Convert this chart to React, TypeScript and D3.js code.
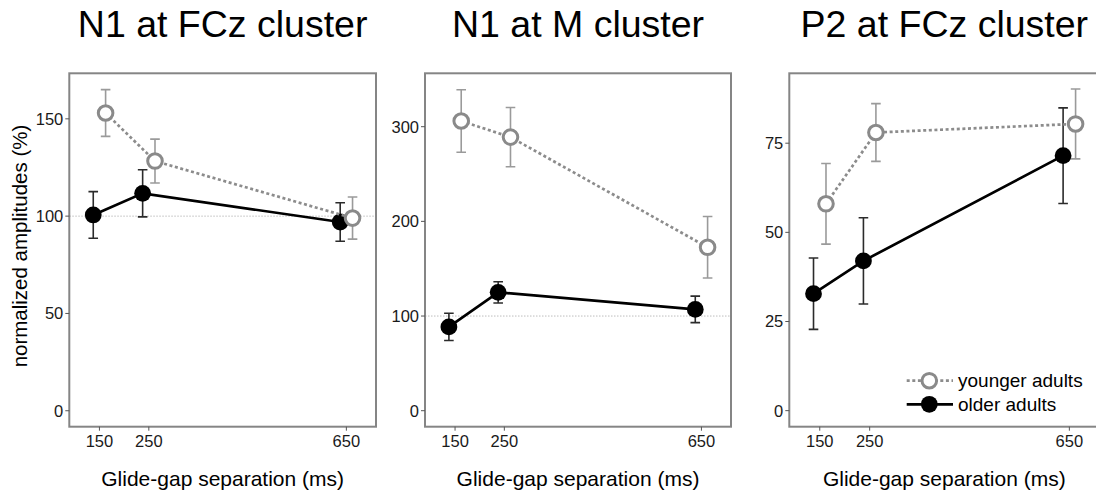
import React from "react";
import * as d3 from "d3";

// Glide-gap separations (ms) and the two listener groups
const separations = [150, 250, 650];
const xTicks = [150, 250, 650];
const groups = ["older adults", "younger adults"];

// Panel titles and y tick labels
const titles = ["N1 at FCz cluster", "N1 at M cluster", "P2 at FCz cluster"];
const yTicksN1FCz = [0, 50, 100, 150];
const yTicksN1M = [0, 100, 200, 300];
const yTicksP2FCz = [0, 25, 50, 75];

// Normalized amplitudes (%) — means and error half-widths
const n1FCzYounger = [153, 128.3, 99];
const n1FCzYoungerErr = [12, 11.3, 10.8];
const n1FCzOlder = [100.6, 111.7, 97];
const n1FCzOlderErr = [12, 12.1, 9.9];

const n1MYounger = [306, 289, 172.6];
const n1MYoungerErr = [33, 31.3, 32.5];
const n1MOlder = [88.5, 125, 107];
const n1MOlderErr = [14.4, 11.2, 14];

const p2FCzYounger = [58, 78, 80.4];
const p2FCzYoungerErr = [11.3, 8.1, 9.8];
const p2FCzOlder = [32.8, 42, 71.5];
const p2FCzOlderErr = [10, 12.1, 13.4];

const FONT = "'Liberation Sans', Arial, Helvetica, sans-serif";
const TOP = 73.3;
const BOTTOM = 426.7;
const X_DOMAIN: [number, number] = [89, 710];
const DODGE = 12.5;

type PanelSpec = {
  title: string;
  left: number;
  width: number;
  yDomain: [number, number];
  yTicks: number[];
  younger: number[];
  youngerErr: number[];
  older: number[];
  olderErr: number[];
  refLine: boolean;
  yLabel: boolean;
  legend: boolean;
};

const panels: PanelSpec[] = [
  {
    title: titles[0], left: 69.3, width: 306.7, yDomain: [-8.2, 173.4], yTicks: yTicksN1FCz,
    younger: n1FCzYounger, youngerErr: n1FCzYoungerErr, older: n1FCzOlder, olderErr: n1FCzOlderErr,
    refLine: true, yLabel: true, legend: false,
  },
  {
    title: titles[1], left: 425, width: 306, yDomain: [-16.9, 356.4], yTicks: yTicksN1M,
    younger: n1MYounger, youngerErr: n1MYoungerErr, older: n1MOlder, olderErr: n1MOlderErr,
    refLine: true, yLabel: false, legend: false,
  },
  {
    title: titles[2], left: 789.3, width: 310, yDomain: [-4.5, 94.6], yTicks: yTicksP2FCz,
    younger: p2FCzYounger, youngerErr: p2FCzYoungerErr, older: p2FCzOlder, olderErr: p2FCzOlderErr,
    refLine: false, yLabel: false, legend: true,
  },
];

const styles = {
  older: { line: "#000", dash: undefined as string | undefined, err: "#2b2b2b", fill: "#000", stroke: "#000", r: 8.4, sw: 0 },
  younger: { line: "#8c8c8c", dash: "3 2.6", err: "#9a9a9a", fill: "#fff", stroke: "#8a8a8a", r: 7.3, sw: 3 },
};

function Panel({ p }: { p: PanelSpec }) {
  const x = d3.scaleLinear().domain(X_DOMAIN).range([p.left, p.left + p.width]);
  const y = d3.scaleLinear().domain(p.yDomain).range([BOTTOM, TOP]);
  const cx = (p.left + p.left + p.width) / 2;
  const series = [
    { key: "older", vals: p.older, errs: p.olderErr, off: -DODGE, st: styles.older },
    { key: "younger", vals: p.younger, errs: p.youngerErr, off: DODGE, st: styles.younger },
  ];
  const lineGen = d3
    .line<[number, number]>()
    .x((d) => d[0])
    .y((d) => d[1]);
  const clipId = `clip-${p.left.toFixed(0)}`;

  return (
    <g>
      <defs>
        <clipPath id={clipId}>
          <rect x={p.left} y={TOP} width={p.width} height={BOTTOM - TOP} />
        </clipPath>
      </defs>
      <text x={cx} y={37} textAnchor="middle" fontSize={37.5} fontFamily={FONT} fill="#000">
        {p.title}
      </text>

      {p.refLine && (
        <line
          x1={p.left}
          x2={p.left + p.width}
          y1={y(100)}
          y2={y(100)}
          stroke="#bdbdbd"
          strokeWidth={1}
          strokeDasharray="1.5 1.5"
        />
      )}

      <g clipPath={`url(#${clipId})`}>
        {series.map((s) => {
          const pts: [number, number][] = separations.map((sep, i) => [x(sep + s.off), y(s.vals[i])]);
          return (
            <g key={s.key}>
              {separations.map((sep, i) => {
                const px = x(sep + s.off);
                const hi = y(s.vals[i] + s.errs[i]);
                const lo = y(s.vals[i] - s.errs[i]);
                return (
                  <g key={i} stroke={s.st.err} strokeWidth={1.6} fill="none">
                    <line x1={px} x2={px} y1={hi} y2={lo} />
                    <line x1={px - 4.8} x2={px + 4.8} y1={hi} y2={hi} />
                    <line x1={px - 4.8} x2={px + 4.8} y1={lo} y2={lo} />
                  </g>
                );
              })}
              <path
                d={lineGen(pts) || ""}
                fill="none"
                stroke={s.st.line}
                strokeWidth={2.7}
                strokeDasharray={s.st.dash}
              />
              {pts.map((pt, i) => (
                <circle
                  key={i}
                  cx={pt[0]}
                  cy={pt[1]}
                  r={s.st.r}
                  fill={s.st.fill}
                  stroke={s.st.stroke}
                  strokeWidth={s.st.sw}
                />
              ))}
            </g>
          );
        })}
      </g>

      <rect
        x={p.left}
        y={TOP}
        width={p.width}
        height={BOTTOM - TOP}
        fill="none"
        stroke="#858585"
        strokeWidth={2}
      />

      {p.yTicks.map((t) => (
        <g key={t}>
          <line x1={p.left - 4} x2={p.left} y1={y(t)} y2={y(t)} stroke="#555" strokeWidth={1} />
          <text
            x={p.left - 6}
            y={y(t)}
            dy="0.36em"
            textAnchor="end"
            fontSize={16.5}
            fontFamily={FONT}
            fill="#1a1a1a"
          >
            {t}
          </text>
        </g>
      ))}

      {xTicks.map((t) => (
        <g key={t}>
          <line x1={x(t)} x2={x(t)} y1={BOTTOM} y2={BOTTOM + 4} stroke="#555" strokeWidth={1} />
          <text x={x(t)} y={446.5} textAnchor="middle" fontSize={16.5} fontFamily={FONT} fill="#1a1a1a">
            {t}
          </text>
        </g>
      ))}

      <text x={cx} y={486} textAnchor="middle" fontSize={21} fontFamily={FONT} fill="#000">
        Glide-gap separation (ms)
      </text>

      {p.yLabel && (
        <text
          transform={`translate(27, ${(TOP + BOTTOM) / 2 - 4}) rotate(-90)`}
          textAnchor="middle"
          fontSize={20.5}
          fontFamily={FONT}
          fill="#000"
        >
          normalized amplitudes (%)
        </text>
      )}

      {p.legend && (
        <g>
          {[
            { label: groups[1], st: styles.younger, yy: 380.7 },
            { label: groups[0], st: styles.older, yy: 404.3 },
          ].map((l) => (
            <g key={l.label}>
              <line
                x1={906.7}
                x2={953}
                y1={l.yy}
                y2={l.yy}
                stroke={l.st.line}
                strokeWidth={2.7}
                strokeDasharray={l.st.dash}
              />
              <circle cx={929.3} cy={l.yy} r={l.st.r} fill={l.st.fill} stroke={l.st.stroke} strokeWidth={l.st.sw} />
              <text x={958} y={l.yy} dy="0.33em" fontSize={19} fontFamily={FONT} fill="#000">
                {l.label}
              </text>
            </g>
          ))}
        </g>
      )}
    </g>
  );
}

export default function App() {
  return (
    <svg
      width={1096}
      height={495}
      style={{ position: "absolute", left: 0, top: 0, background: "#fff" }}
    >
      <rect x={0} y={0} width={1096} height={495} fill="#fff" />
      {panels.map((p) => (
        <Panel key={p.title} p={p} />
      ))}
    </svg>
  );
}
